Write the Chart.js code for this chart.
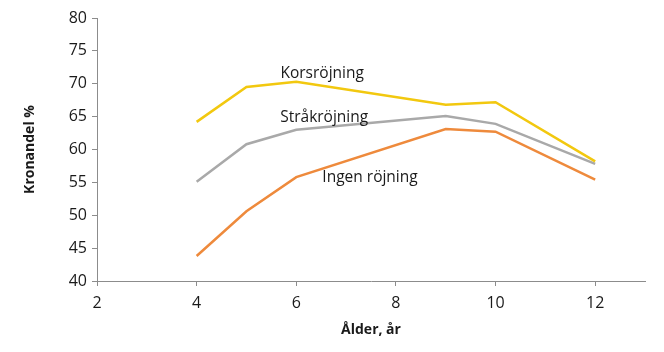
<!DOCTYPE html>
<html><head><meta charset="utf-8">
<script src="https://cdn.jsdelivr.net/npm/chart.js@4/dist/chart.umd.min.js"></script>
<style>html,body{margin:0;padding:0;background:#fff}#wrap{width:664px;height:352px}</style>
</head><body><div id="wrap"><canvas id="c" width="664" height="352"></canvas></div>
<script>
const ages = [4, 5, 6, 9, 10, 12];
const korsrojning = [64.2, 69.5, 70.3, 66.8, 67.2, 58.2];
const strakrojning = [55.1, 60.8, 63.0, 65.1, 63.9, 57.8];
const ingenRojning = [43.8, 50.6, 55.8, 63.1, 62.7, 55.4];
const seriesNames = ['Korsröjning', 'Stråkröjning', 'Ingen röjning'];
const labelAnchors = [[6.52, 71.5], [6.56, 64.9], [7.48, 55.7]];

const toPts = v => ages.map((a, i) => ({x: a, y: v[i]}));
const colors = ['#F2C80F', '#A9A9A9', '#EE8A3C'];

const labelPlugin = {
  id: 'lbl',
  afterDatasetsDraw(chart) {
    const {ctx, scales} = chart;
    ctx.save();
    ctx.font = '15.5px "Open Sans"';
    ctx.fillStyle = '#1a1a1a';
    ctx.textAlign = 'center';
    ctx.textBaseline = 'middle';
    seriesNames.forEach((n, i) => {
      ctx.fillText(n, scales.x.getPixelForValue(labelAnchors[i][0]), scales.y.getPixelForValue(labelAnchors[i][1]));
    });
    ctx.restore();
  }
};

new Chart(document.getElementById('c'), {
  type: 'line',
  data: {
    datasets: [
      {label: seriesNames[0], data: toPts(korsrojning), borderColor: colors[0]},
      {label: seriesNames[1], data: toPts(strakrojning), borderColor: colors[1]},
      {label: seriesNames[2], data: toPts(ingenRojning), borderColor: colors[2]}
    ]
  },
  options: {
    responsive: false,
    animation: false,
    devicePixelRatio: 1,
    layout: {padding: {left: 18, right: 19, top: 18, bottom: 10}},
    elements: {line: {borderWidth: 2.5, tension: 0}, point: {radius: 0}},
    plugins: {legend: {display: false}, tooltip: {enabled: false}},
    scales: {
      x: {
        type: 'linear', min: 2, max: 13,
        afterBuildTicks: s => { s.ticks = s.ticks.filter(t => t.value <= 12 && t.value % 2 === 0); },
        ticks: {stepSize: 2, color: '#1a1a1a', font: {family: 'Open Sans', size: 16}, padding: 8},
        grid: {display: true, drawOnChartArea: false, drawTicks: true, tickLength: 5, color: '#8c8c8c'},
        border: {color: '#8c8c8c', width: 1},
        title: {display: true, text: 'Ålder, år', color: '#1a1a1a', font: {family: 'Open Sans', size: 14, weight: 'bold'}, padding: {top: 0, bottom: 4}}
      },
      y: {
        min: 40, max: 80,
        ticks: {stepSize: 5, color: '#1a1a1a', font: {family: 'Open Sans', size: 16}, padding: 5},
        grid: {display: true, drawOnChartArea: false, drawTicks: true, tickLength: 5, color: '#8c8c8c'},
        border: {color: '#8c8c8c', width: 1},
        title: {display: true, text: 'Kronandel %', color: '#1a1a1a', font: {family: 'Open Sans', size: 14, weight: 'bold'}, padding: {bottom: 10}},
        afterFit: s => { s.width = 79; }
      }
    }
  },
  plugins: [labelPlugin]
});
</script></body></html>
